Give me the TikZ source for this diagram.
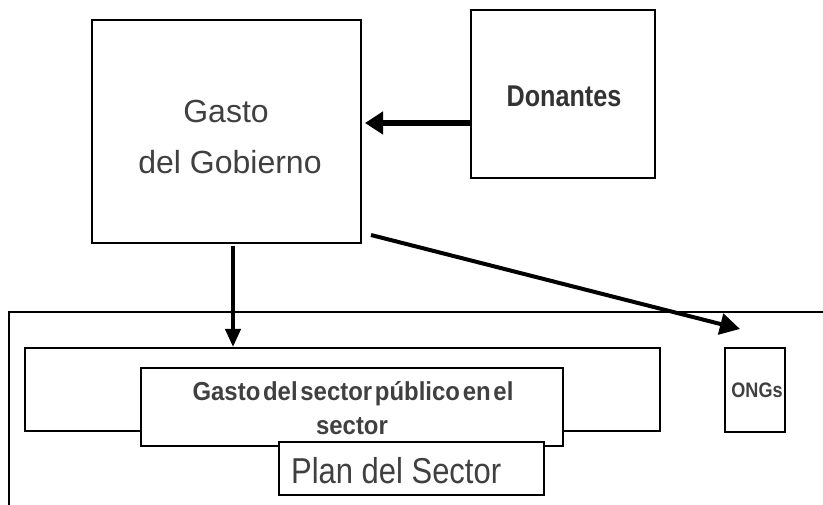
\documentclass[tikz,border=0pt]{standalone}
\usepackage{fontspec}
\usepackage{graphicx}
\setmainfont{Liberation Sans}
\usetikzlibrary{arrows.meta}
\definecolor{txt}{RGB}{64,64,64}
\definecolor{txtdark}{RGB}{51,51,51}
\begin{document}
\begin{tikzpicture}[x=1pt,y=-1pt,
  box/.style={draw=black, line width=2pt, fill=white, inner sep=0pt, rectangle},
  lbl/.style={text=txt, inner sep=0pt, anchor=base},
  frame/.style={draw=black, line width=2pt},
  arrA/.style={line width=6pt, -{Triangle[length=18pt,width=22pt]}},
  arrB/.style={line width=4pt, -{Triangle[length=18pt,width=15pt]}},
  arrC/.style={line width=4pt, -{Triangle[length=20pt,width=21pt]}}]
\useasboundingbox (0,0) rectangle (823,505);
% outer sector frame (only top and left edges visible)
\draw[frame] (9,505) -- (9,312) -- (823,312);
% top boxes
\node[box, minimum width=269pt, minimum height=223pt] (gob) at (226.5,131.5) {};
\node[box, minimum width=184pt, minimum height=168pt] (don) at (563,94) {};
% lower boxes
\node[box, minimum width=635pt, minimum height=83pt] (wide) at (342.5,389.5) {};
\node[box, minimum width=422pt, minimum height=78pt] (inner) at (352,407) {};
\node[box, minimum width=265pt, minimum height=53pt] (plan) at (411.5,468.5) {};
\node[box, minimum width=60pt, minimum height=84pt] (ong) at (755,390) {};
% texts
\node[lbl, font=\fontsize{32}{38}\selectfont] (tgob1) at (226,123) {Gasto};
\node[lbl, font=\fontsize{32}{38}\selectfont] (tgob2) at (230,174) {del Gobierno};
\node[lbl, text=txtdark, font=\bfseries\fontsize{30}{36}\selectfont] (tdon) at (564,107) {\scalebox{0.84}[1]{Donantes}};
\node[lbl, font=\bfseries\fontsize{26}{31}\selectfont] (tin1) at (353,401) {\scalebox{0.92}[1]{\spaceskip=3pt Gasto del sector público en el}};
\node[lbl, font=\bfseries\fontsize{26}{31}\selectfont] (tin2) at (352,435) {\scalebox{0.92}[1]{sector}};
\node[lbl, anchor=base west, font=\fontsize{36}{43}\selectfont] (tplan) at (291,483) {\scalebox{0.86}[1]{Plan del Sector}};
\node[lbl, font=\bfseries\fontsize{21}{25}\selectfont] (tong) at (757,398) {\scalebox{0.86}[1]{ONGs}};
% connectors
\coordinate (dstart) at (371,235);
\coordinate (ongtip) at (740,329);
\draw[arrA, shorten >=3pt] (don.west |- 0,123) -- (gob.east |- 0,123);
\draw[arrB, shorten <=2pt] (gob.south -| 233,0) -- (wide.north -| 233,0);
\draw[arrC] (dstart) -- (ongtip);
\end{tikzpicture}
\end{document}
